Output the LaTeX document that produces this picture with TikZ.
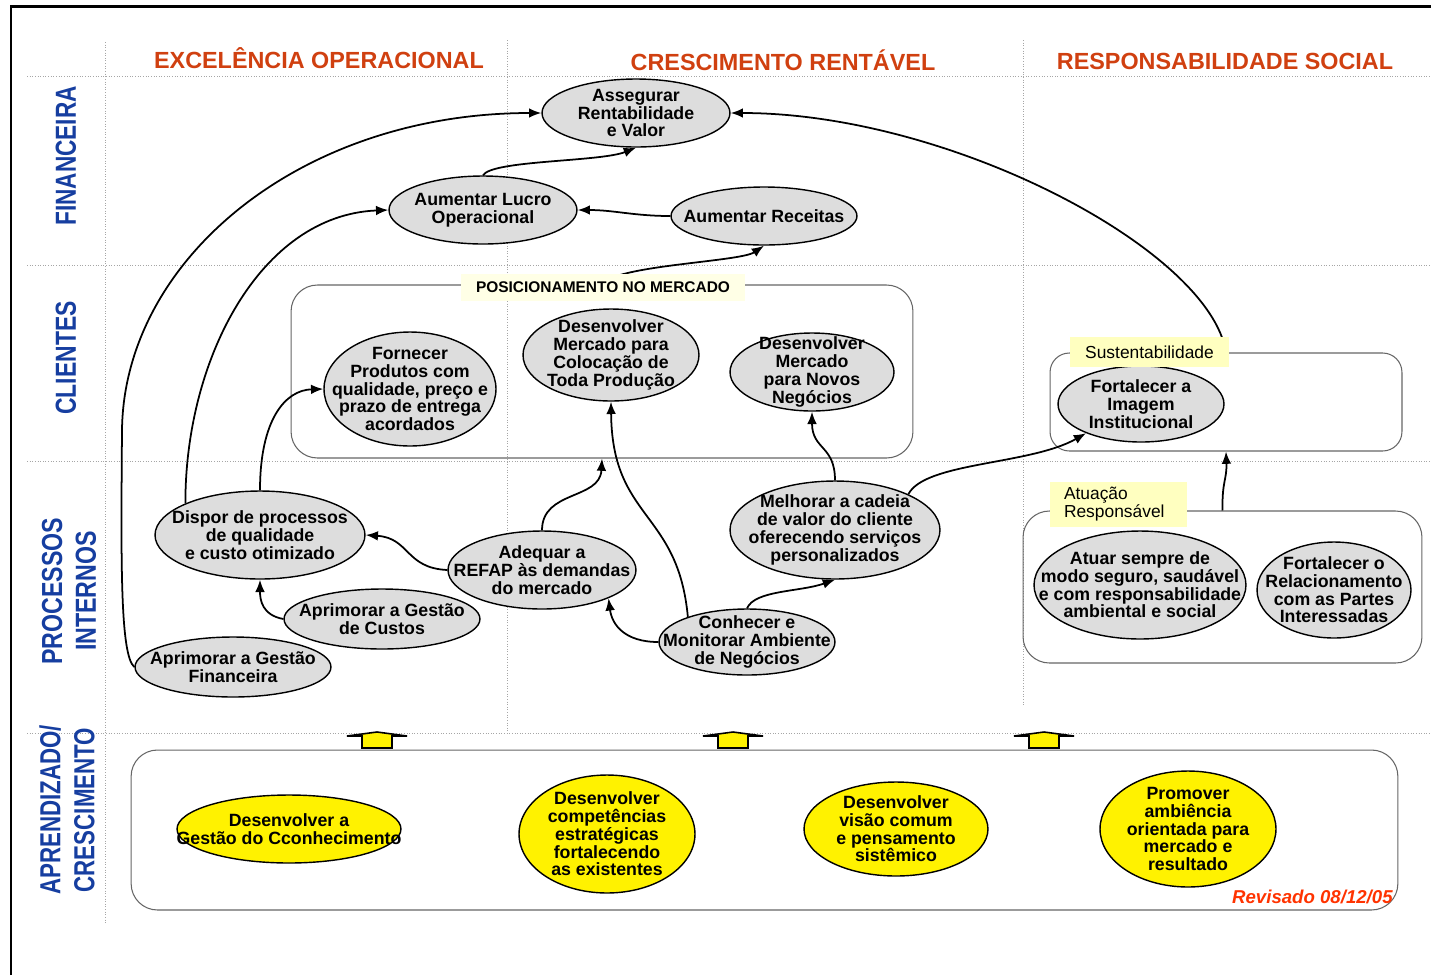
\documentclass[tikz,border=0pt]{standalone}
\usepackage{fontspec,graphicx}
\setmainfont{Liberation Sans}
\usetikzlibrary{shapes.geometric,arrows.meta}

\definecolor{laranja}{RGB}{208,64,16}
\definecolor{azul}{RGB}{22,62,160}
\definecolor{cinza}{RGB}{221,221,221}
\definecolor{creme}{RGB}{255,255,230}
\definecolor{creme2}{RGB}{255,255,192}
\definecolor{revis}{RGB}{255,51,0}

\begin{document}
\begin{tikzpicture}[x=0.02cm, y=-0.02cm,
  every node/.style={font=\fontsize{10.1}{10.1}\selectfont\bfseries, align=center},
  obj/.style={ellipse, draw, line width=0.8pt, fill=cinza, inner sep=-3cm},
  objy/.style={obj, fill=yellow},
  grupo/.style={draw=black!60, line width=0.6pt, rounded corners=15pt, inner sep=0pt},
  seta/.style={-{Latex[length=7pt,width=5.5pt]}, line width=1pt},
  grade/.style={densely dotted, black!35, line width=0.5pt},
  persp/.style={rotate=90, text=azul, font=\fontsize{16.5}{19.3}\selectfont\bfseries},
  tema/.style={text=laranja, font=\fontsize{13.3}{13.3}\selectfont\bfseries},
  rotulo/.style={fill=creme2, inner sep=0pt, font=\fontsize{9.9}{10.2}\selectfont\mdseries}]
        \useasboundingbox (0,0) rectangle (1431,975);
        % frame and grid
        \draw[line width=1.7pt] (11,975) -- (11,6) -- (1431,6);
        \foreach \y in {76,265,461,733}
          \draw[grade] (27,\y) -- (1431,\y);
        \draw[grade] (105,42) -- (105,923);
        \draw[grade] (507,40) -- (507,735);
        \draw[grade] (1023,40) -- (1023,705);
        % themes
        \node[tema] (excel) at (319,58) {EXCELÊNCIA OPERACIONAL};
        \node[tema] (cresc) at (783,60) {CRESCIMENTO RENTÁVEL};
        \node[tema] (resp) at (1225,61) {RESPONSABILIDADE SOCIAL};
        % perspectives
        \node[persp] (financ) at (66,156) {\scalebox{0.78}[1]{FINANCEIRA}};
        \node[persp] (clientes) at (66,358) {\scalebox{0.79}[1]{CLIENTES}};
        \node[persp] (processos) at (69,591) {\scalebox{0.8}[1]{PROCESSOS}\\\scalebox{0.8}[1]{INTERNOS}};
        \node[persp] (aprend) at (67,810) {\scalebox{0.77}[1]{APRENDIZADO/}\\\scalebox{0.77}[1]{CRESCIMENTO}};
        % groups
        \node[grupo, minimum width=12.44cm, minimum height=3.46cm] (posbox) at (602,371.5) {};
        \node[grupo, rounded corners=11pt, minimum width=7.04cm, minimum height=1.96cm] (sustbox) at (1226,402) {};
        \node[grupo, minimum width=7.98cm, minimum height=3.04cm] (atuabox) at (1222.5,587) {};
        \node[grupo, minimum width=25.34cm, minimum height=3.2cm] (aprbox) at (764.5,830) {};
        % financial
        \node[obj, minimum width=3.76cm, minimum height=1.36cm] (assegurar) at (636,113) {Assegurar\\Rentabilidade\\e Valor};
        \node[obj, minimum width=3.76cm, minimum height=1.36cm] (lucro) at (483,210) {Aumentar Lucro\\Operacional};
        \node[obj, minimum width=3.72cm, minimum height=1.16cm] (receitas) at (764,216) {Aumentar Receitas};
        % clients
        \node[obj, minimum width=3.44cm, minimum height=2.28cm] (fornecer) at (410,389) {Fornecer\\Produtos com\\qualidade, preço e\\prazo de entrega\\acordados};
        \node[obj, minimum width=3.52cm, minimum height=1.84cm] (colocacao) at (611,355) {Desenvolver\\Mercado para\\Colocação de\\Toda Produção};
        \node[obj, minimum width=3.28cm, minimum height=1.56cm] (novos) at (812,372) {Desenvolver\\Mercado\\para Novos\\Negócios};
        \node[obj, minimum width=3.32cm, minimum height=1.52cm] (imagem) at (1141,404) {Fortalecer a\\Imagem\\Institucional};
        % internal processes
        \node[obj, minimum width=4.2cm, minimum height=1.76cm] (dispor) at (260,535) {Dispor de processos\\de qualidade\\e custo otimizado};
        \node[obj, minimum width=3.76cm, minimum height=1.56cm] (adequar) at (542,570) {Adequar a\\REFAP às demandas\\do mercado};
        \node[obj, minimum width=3.92cm, minimum height=1.2cm] (custos) at (382,619) {Aprimorar a Gestão\\de Custos};
        \node[obj, minimum width=3.92cm, minimum height=1.2cm] (gfinanceira) at (233,667) {Aprimorar a Gestão\\Financeira};
        \node[obj, minimum width=4.2cm, minimum height=1.96cm] (melhorar) at (835,530) {Melhorar a cadeia\\de valor do cliente\\oferecendo serviços\\personalizados};
        \node[obj, minimum width=3.52cm, minimum height=1.32cm] (conhecer) at (747,642) {Conhecer e\\Monitorar Ambiente\\de Negócios};
        \node[obj, minimum width=4.24cm, minimum height=2.16cm] (atuar) at (1140,585) {Atuar sempre de\\modo seguro, saudável\\e com responsabilidade\\ambiental e social};
        \node[obj, minimum width=3.08cm, minimum height=1.92cm] (partes) at (1334,590) {Fortalecer o\\Relacionamento\\com as Partes\\Interessadas};
        % learning
        \node[objy, minimum width=4.48cm, minimum height=1.36cm] (gestao) at (289,829) {Desenvolver a\\Gestão do Cconhecimento};
        \node[objy, minimum width=3.52cm, minimum height=2.36cm] (competencias) at (607,834) {Desenvolver\\competências\\estratégicas\\fortalecendo\\as existentes};
        \node[objy, minimum width=3.68cm, minimum height=1.88cm] (visao) at (896,829) {Desenvolver\\visão comum\\e pensamento\\sistêmico};
        \node[objy, minimum width=3.52cm, minimum height=2.32cm] (ambiencia) at (1188,829) {Promover\\ambiência\\orientada para\\mercado e\\resultado};
        % links
        \draw[seta] (lucro.north) .. controls (492,160) and (600,162) .. (assegurar.south);
        \draw[seta] (receitas.west) to[out=180,in=0] (lucro.east);
        \draw[seta] (posbox.north) .. controls (615,265) and (740,262) .. (receitas.south);
        \draw[seta] (gfinanceira.west) .. controls (120,655) and (121,560) .. (122,430)
          .. controls (124,260) and (300,113) .. (assegurar.west);
        \draw[seta] (dispor.157) .. controls (185,360) and (260,215) .. (lucro.west);
        \draw[seta] (dispor.north) .. controls (260,420) and (285,390) .. (fornecer.west);
        \draw[seta] (adequar.west) .. controls (405,568) and (410,538) .. (dispor.east);
        \draw[seta] (custos.west) .. controls (262,615) and (260,600) .. (dispor.south);
        \draw[seta] (adequar.north) .. controls (542,490) and (600,500) .. (posbox.south);
        \draw[seta] (conhecer.157) .. controls (678,510) and (612,520) .. (colocacao.south);
        \draw[seta] (conhecer.west) .. controls (625,642) and (612,625) .. (adequar.-23);
        \draw[seta] (conhecer.north) .. controls (755,590) and (800,592) .. (melhorar.south);
        \draw[seta] (melhorar.north) .. controls (835,445) and (812,450) .. (novos.south);
        \draw[seta] (melhorar.26) .. controls (925,462) and (1030,465) .. (imagem.208);
        \draw[seta] (atuabox.north) .. controls (1222,480) and (1227,480) .. (sustbox.south);
        \draw[seta] (sustbox.north) .. controls (1210,250) and (950,113) .. (assegurar.east);
        % group labels
        \node[rotulo, fill=creme, minimum width=5.7cm, minimum height=0.54cm,
          font=\fontsize{8.8}{8.8}\selectfont\bfseries] (poslbl) at (603,287) {POSICIONAMENTO NO MERCADO};
        \node[rotulo, minimum width=3.18cm, minimum height=0.6cm] (sustlbl) at (1149.5,352) {Sustentabilidade};
        \node[rotulo, align=left, text width=2.18cm, inner xsep=0.28cm, minimum height=0.9cm] (atualbl) at (1118.5,504.5) {Atuação\\Responsável};
        % up arrows
        \foreach \x in {377,733,1044}
          \draw[fill=yellow, line width=0.9pt] ({\x-15},748) -- ({\x-15},736) -- ({\x-30},736)
            -- (\x,732) -- ({\x+30},736) -- ({\x+15},736) -- ({\x+15},748) -- cycle;
        \node[anchor=east, inner sep=0pt, text=revis, font=\fontsize{10.6}{10.6}\selectfont\bfseries\itshape] (revisado) at (1393,897) {Revisado 08/12/05};
\end{tikzpicture}
\end{document}
